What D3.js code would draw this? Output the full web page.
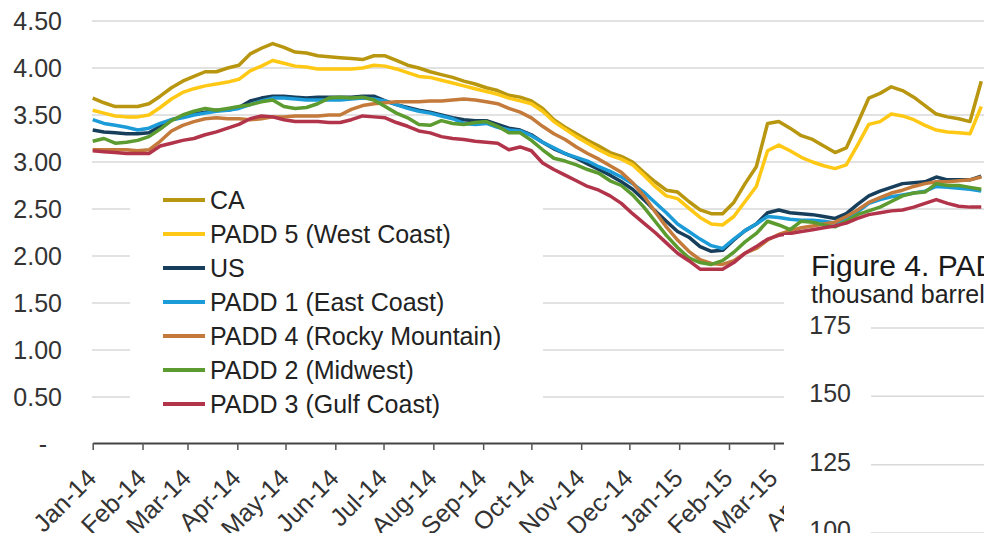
<!DOCTYPE html>
<html lang="en">
<head>
    <meta charset="UTF-8">
    <title>Retail gasoline prices by region</title>
    <style>
        body, html {
            margin: 0;
            padding: 0;
            background: #fff;
            overflow: hidden;
        }
        svg {
            display: block;
            font-family: "Liberation Sans", Arial, sans-serif;
        }
        .grid line {
            stroke: #d9d9d9;
            stroke-width: 1.5px;
        }
        .series {
            fill: none;
            stroke-width: 3.5px;
            stroke-linejoin: round;
        }
        .tick-label {
            fill: #333;
            font-size: 25px;
        }
    </style>
</head>
<body>
    <script src="https://d3js.org/d3.v7.min.js"></script>
    <script>
        // weekly prices, $/gallon, starting first week of Jan 2014
        const ca = [
            3.68, 3.63, 3.59, 3.59, 3.59, 3.62, 3.70, 3.79, 3.86, 3.91,
            3.96, 3.96, 4.00, 4.03, 4.15, 4.21, 4.26, 4.22, 4.17, 4.16,
            4.13, 4.12, 4.11, 4.10, 4.09, 4.13, 4.13, 4.08, 4.03, 4.00,
            3.96, 3.93, 3.90, 3.86, 3.83, 3.79, 3.76, 3.71, 3.69, 3.65,
            3.57, 3.45, 3.37, 3.30, 3.23, 3.17, 3.10, 3.06, 3.00, 2.89,
            2.79, 2.70, 2.68, 2.58, 2.49, 2.45, 2.45, 2.57, 2.77, 2.95,
            3.41, 3.43, 3.36, 3.28, 3.24, 3.17, 3.10, 3.15, 3.41, 3.68,
            3.73, 3.80, 3.76, 3.69, 3.60, 3.51, 3.48, 3.46, 3.43, 3.86
        ];
        const padd5 = [
            3.55, 3.52, 3.49, 3.48, 3.48, 3.50, 3.58, 3.67, 3.74, 3.78,
            3.81, 3.83, 3.85, 3.88, 3.97, 4.02, 4.08, 4.05, 4.02, 4.01,
            3.99, 3.99, 3.99, 3.99, 4.00, 4.03, 4.02, 3.99, 3.95, 3.91,
            3.90, 3.87, 3.84, 3.81, 3.78, 3.75, 3.72, 3.68, 3.65, 3.62,
            3.54, 3.43, 3.35, 3.27, 3.20, 3.13, 3.07, 3.03, 2.97, 2.86,
            2.74, 2.64, 2.61, 2.51, 2.41, 2.34, 2.33, 2.42, 2.58, 2.74,
            3.12, 3.18, 3.12, 3.05, 3.00, 2.96, 2.93, 2.97, 3.18, 3.40,
            3.43, 3.51, 3.49, 3.45, 3.39, 3.34, 3.32, 3.31, 3.30, 3.59
        ];
        const us = [
            3.34, 3.32, 3.31, 3.30, 3.30, 3.31, 3.38, 3.45, 3.48, 3.51,
            3.53, 3.55, 3.55, 3.58, 3.65, 3.68, 3.70, 3.70, 3.69, 3.68,
            3.69, 3.69, 3.69, 3.69, 3.70, 3.70, 3.65, 3.61, 3.58, 3.55,
            3.53, 3.50, 3.47, 3.45, 3.44, 3.44, 3.40, 3.36, 3.34, 3.29,
            3.21, 3.14, 3.09, 3.04, 2.98, 2.92, 2.86, 2.79, 2.71, 2.60,
            2.48, 2.37, 2.26, 2.20, 2.10, 2.05, 2.06, 2.17, 2.27, 2.34,
            2.46, 2.49, 2.46, 2.45, 2.44, 2.42, 2.40, 2.45, 2.55, 2.64,
            2.69, 2.73, 2.77, 2.78, 2.79, 2.84, 2.81, 2.81, 2.81, 2.85
        ];
        const padd1 = [
            3.45, 3.41, 3.39, 3.37, 3.34, 3.36, 3.41, 3.45, 3.47, 3.50,
            3.52, 3.54, 3.55, 3.57, 3.61, 3.65, 3.68, 3.68, 3.67, 3.66,
            3.66, 3.66, 3.66, 3.67, 3.68, 3.67, 3.65, 3.61, 3.57, 3.54,
            3.52, 3.49, 3.46, 3.41, 3.40, 3.41, 3.37, 3.34, 3.33, 3.28,
            3.21, 3.15, 3.09, 3.05, 3.01, 2.95, 2.90, 2.84, 2.77, 2.68,
            2.57, 2.46, 2.34, 2.26, 2.18, 2.11, 2.08, 2.18, 2.27, 2.34,
            2.42, 2.41, 2.39, 2.38, 2.38, 2.37, 2.35, 2.40, 2.47, 2.56,
            2.60, 2.63, 2.65, 2.67, 2.69, 2.74, 2.73, 2.72, 2.71, 2.69
        ];
        const padd4 = [
            3.13, 3.13, 3.13, 3.13, 3.12, 3.13, 3.22, 3.33, 3.39, 3.43,
            3.46, 3.47, 3.46, 3.46, 3.45, 3.46, 3.48, 3.48, 3.49, 3.49,
            3.49, 3.50, 3.50, 3.56, 3.60, 3.62, 3.63, 3.64, 3.64, 3.64,
            3.65, 3.65, 3.66, 3.67, 3.66, 3.64, 3.62, 3.57, 3.53, 3.47,
            3.38, 3.30, 3.24, 3.16, 3.09, 3.03, 2.96, 2.89, 2.78, 2.64,
            2.47, 2.31, 2.17, 2.05, 1.96, 1.92, 1.91, 1.95, 2.03, 2.08,
            2.17, 2.23, 2.27, 2.30, 2.32, 2.34, 2.36, 2.42, 2.49, 2.57,
            2.62, 2.67, 2.70, 2.74, 2.77, 2.79, 2.79, 2.80, 2.81, 2.84
        ];
        const padd2 = [
            3.22, 3.25, 3.20, 3.21, 3.23, 3.27, 3.35, 3.44, 3.50, 3.54,
            3.57, 3.55, 3.57, 3.59, 3.61, 3.64, 3.66, 3.59, 3.57, 3.58,
            3.62, 3.68, 3.69, 3.68, 3.69, 3.66, 3.59, 3.52, 3.47, 3.40,
            3.39, 3.44, 3.41, 3.40, 3.42, 3.43, 3.38, 3.31, 3.31, 3.23,
            3.13, 3.04, 3.01, 2.97, 2.92, 2.88, 2.80, 2.75, 2.65, 2.52,
            2.37, 2.22, 2.09, 1.98, 1.93, 1.91, 1.95, 2.04, 2.15, 2.24,
            2.37, 2.33, 2.28, 2.37, 2.36, 2.33, 2.31, 2.37, 2.44, 2.48,
            2.52, 2.58, 2.64, 2.67, 2.68, 2.77, 2.75, 2.75, 2.73, 2.71
        ];
        const padd3 = [
            3.12, 3.11, 3.10, 3.09, 3.09, 3.09, 3.17, 3.20, 3.23, 3.25,
            3.29, 3.32, 3.36, 3.40, 3.46, 3.49, 3.48, 3.45, 3.43, 3.43,
            3.43, 3.42, 3.42, 3.45, 3.49, 3.48, 3.47, 3.42, 3.38, 3.33,
            3.31, 3.27, 3.25, 3.24, 3.22, 3.21, 3.20, 3.13, 3.16, 3.12,
            2.99, 2.92, 2.86, 2.80, 2.74, 2.70, 2.64, 2.56, 2.45, 2.35,
            2.25, 2.14, 2.03, 1.95, 1.86, 1.86, 1.86, 1.93, 2.03, 2.10,
            2.18, 2.22, 2.24, 2.26, 2.28, 2.30, 2.32, 2.35, 2.40, 2.44,
            2.46, 2.48, 2.49, 2.52, 2.56, 2.60, 2.56, 2.53, 2.52, 2.52
        ];

        const yTicks = [0, 0.5, 1, 1.5, 2, 2.5, 3, 3.5, 4, 4.5];
        const yTickLabels = ["-", "0.50", "1.00", "1.50", "2.00", "2.50", "3.00", "3.50", "4.00", "4.50"];

        // second figure peeking in from below
        const fig4Ticks = [175, 150, 125, 100];

        const series = [
            { name: "CA", values: ca, color: "#b8960f" },
            { name: "PADD 5 (West Coast)", values: padd5, color: "#ffc814" },
            { name: "US", values: us, color: "#173f5c" },
            { name: "PADD 1 (East Coast)", values: padd1, color: "#1b9bd7" },
            { name: "PADD 4 (Rocky Mountain)", values: padd4, color: "#c47a3a" },
            { name: "PADD 2 (Midwest)", values: padd2, color: "#5b9b2f" },
            { name: "PADD 3 (Gulf Coast)", values: padd3, color: "#b2344a" }
        ];

        const width = 984;
        const height = 533;
        const start = new Date(Date.UTC(2014, 0, 1));
        const end = new Date(Date.UTC(2015, 6, 1));
        const dates = ca.map((d, i) => d3.utcDay.offset(start, 7 * i));

        // ~1.607 px per day, Jan-14 at 92.7
        const x = d3.scaleUtc()
            .domain([start, end])
            .range([92.7, 92.7 + 1.6068 * d3.utcDay.count(start, end)]);
        const y = d3.scaleLinear().domain([0, 4.5]).range([444, 21]);

        const svg = d3.select("body").append("svg")
            .attr("width", width)
            .attr("height", height);

        // gridlines
        svg.append("g").attr("class", "grid")
            .selectAll("line")
            .data(yTicks.filter(d => d > 0))
            .enter().append("line")
            .attr("x1", 92).attr("x2", width)
            .attr("y1", d => y(d)).attr("y2", d => y(d));

        svg.append("g")
            .selectAll("text")
            .data(yTicks)
            .enter().append("text")
            .attr("class", "tick-label")
            .attr("x", d => d === 0 ? 47 : 62)
            .attr("y", d => y(d) + 9)
            .attr("text-anchor", "end")
            .text((d, i) => yTickLabels[i]);

        // x axis
        const xAxis = d3.axisBottom(x)
            .ticks(d3.utcMonth.every(1))
            .tickFormat(d3.utcFormat("%b-%y"))
            .tickSize(7)
            .tickSizeOuter(0);

        const xg = svg.append("g")
            .attr("transform", "translate(0,443)")
            .call(xAxis);
        xg.select(".domain").attr("stroke", "#444").attr("stroke-width", 2);
        xg.selectAll(".tick line").attr("stroke", "#555").attr("stroke-width", 1.5);
        xg.selectAll(".tick text")
            .attr("class", "tick-label")
            .attr("fill", "#333")
            .attr("text-anchor", "end")
            .attr("transform", "translate(-8,24) rotate(-45)")
            .attr("y", 0)
            .attr("dy", "0.71em")
            .attr("x", 0);

        const line = d3.line()
            .x((d, i) => x(dates[i]))
            .y(d => y(d));

        svg.append("g")
            .selectAll("path")
            .data(series)
            .enter().append("path")
            .attr("class", "series")
            .attr("stroke", d => d.color)
            .attr("d", d => line(d.values));

        // legend
        const legend = svg.append("g");
        legend.append("rect")
            .attr("x", 130).attr("y", 178)
            .attr("width", 413).attr("height", 244)
            .attr("fill", "#fff");

        const item = legend.selectAll(".item")
            .data(series)
            .enter().append("g")
            .attr("transform", (d, i) => `translate(163,${200 + i * 34})`);
        item.append("line")
            .attr("x1", 0).attr("x2", 42)
            .attr("stroke", d => d.color)
            .attr("stroke-width", 4);
        item.append("text")
            .attr("x", 47).attr("y", 9)
            .attr("fill", "#222")
            .style("font-size", "25px")
            .text(d => d.name);

        // overlapping Figure 4 panel
        const fig4 = svg.append("g");
        fig4.append("rect")
            .attr("x", 784).attr("y", 235)
            .attr("width", 200).attr("height", 300)
            .attr("fill", "#fff");
        fig4.append("text")
            .attr("x", 811).attr("y", 276)
            .attr("fill", "#1a1a1a")
            .style("font-size", "30px")
            .text("Figure 4. PADD 5");
        fig4.append("text")
            .attr("x", 811).attr("y", 303)
            .attr("fill", "#222")
            .style("font-size", "25px")
            .text("thousand barrels");

        const y4 = d3.scaleLinear().domain([100, 175]).range([533, 328]);
        fig4.selectAll(".g4")
            .data(fig4Ticks)
            .enter().append("line")
            .attr("x1", 871).attr("x2", width)
            .attr("y1", d => y4(d)).attr("y2", d => y4(d))
            .attr("stroke", "#d9d9d9").attr("stroke-width", 1.5);
        fig4.selectAll(".t4")
            .data(fig4Ticks)
            .enter().append("text")
            .attr("class", "tick-label")
            .attr("x", 851)
            .attr("y", d => y4(d) + 6)
            .attr("text-anchor", "end")
            .text(d => d);
    </script>
</body>
</html>
